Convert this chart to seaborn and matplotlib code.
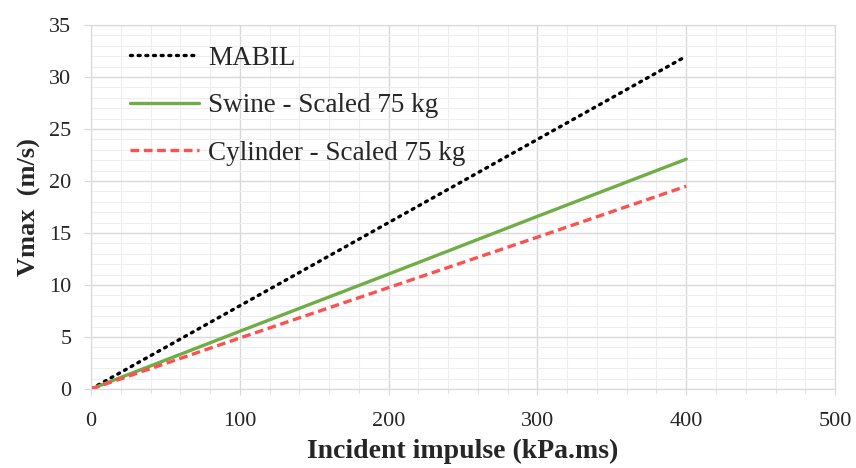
import numpy as np
import pandas as pd
import matplotlib
matplotlib.use("Agg")
import matplotlib.pyplot as plt
import seaborn as sns
from matplotlib.ticker import MultipleLocator

# data
impulse = [0, 100, 200, 300, 400]
mabil = [0, 8.0, 16.0, 24.0, 32.0]
swine = [0, 5.55, 11.05, 16.6, 22.1]
cylinder = [0, 4.9, 9.75, 14.6, 19.5]
names = ["MABIL", "Swine - Scaled 75 kg", "Cylinder - Scaled 75 kg"]

df = pd.DataFrame({"x": impulse * 3,
                   "y": mabil + swine + cylinder,
                   "series": sum([[n] * len(impulse) for n in names], [])})

sns.set_style("white")
plt.rcParams['font.family'] = ['Liberation Serif', 'DejaVu Serif']

fig = plt.figure(figsize=(8.56, 4.68), dpi=100)
ax = fig.add_axes([0.1063, 0.1688, 0.8692, 0.7778])

palette = {"MABIL": "black", "Swine - Scaled 75 kg": "#70AD47",
           "Cylinder - Scaled 75 kg": "#FF5050"}
sns.lineplot(data=df, x="x", y="y", hue="series", palette=palette, ax=ax,
             linewidth=2.4, legend=False)
lines = ax.get_lines()
lines[0].set_linestyle((0, (0.6, 1.7)))
lines[0].set_dash_capstyle("round")
lines[1].set_linestyle("-")
lines[2].set_linestyle((0, (2.6, 1.4)))
lines[2].set_dash_capstyle("butt")

ax.set_xlim(0, 500)
ax.set_ylim(0, 35)
ax.xaxis.set_major_locator(MultipleLocator(100))
ax.xaxis.set_minor_locator(MultipleLocator(20))
ax.yaxis.set_major_locator(MultipleLocator(5))
ax.yaxis.set_minor_locator(MultipleLocator(1))
ax.grid(which="major", color="#d9d9d9", linewidth=1.0)
ax.grid(which="minor", color="#eeeeee", linewidth=0.8)
ax.set_axisbelow(True)
for s in ax.spines.values():
    s.set_color("#d9d9d9")
ax.tick_params(axis="x", which="major", length=4.5, color="#d9d9d9", labelsize=16, pad=12, bottom=True)
ax.tick_params(axis="x", which="minor", length=3, color="#d9d9d9", bottom=True)
ax.tick_params(axis="y", which="major", length=5, color="#d9d9d9", labelsize=16, pad=9, left=True)

ax.set_xlabel("Incident impulse (kPa.ms)", fontsize=20, fontweight="bold", labelpad=6)
ax.set_ylabel("Vmax  (m/s)", fontsize=19, fontweight="bold", labelpad=6)

ax.legend(lines, names, loc="upper left", frameon=False, fontsize=19.5,
          handlelength=2.55, handletextpad=0.35, labelspacing=0.83,
          borderpad=0, borderaxespad=0, bbox_to_anchor=(0.052, 0.943))

fig.savefig("out.png", dpi=100)
